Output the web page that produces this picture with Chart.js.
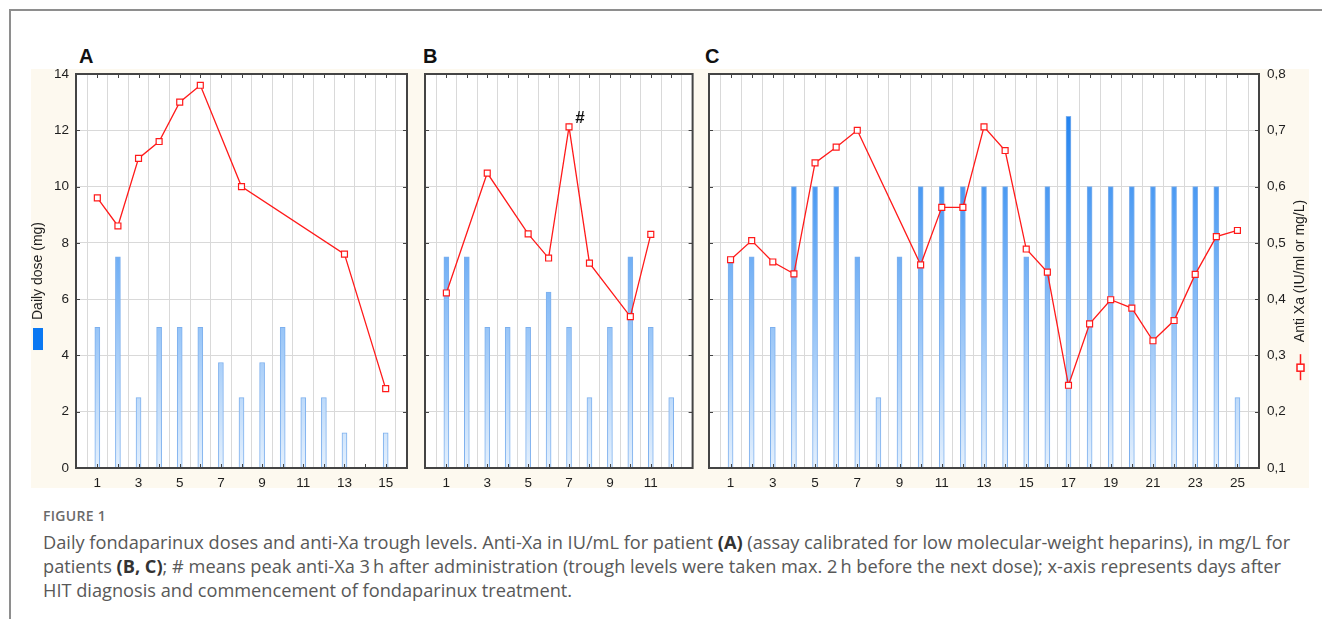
<!DOCTYPE html>
<html>
<head>
<meta charset="utf-8">
<script src="https://cdn.jsdelivr.net/npm/chart.js@4.4.1/dist/chart.umd.min.js"></script>
<style>
  body { margin: 0; width: 1322px; height: 619px; background: #fff; position: relative; overflow: hidden; font-family: "Liberation Sans", Arial, sans-serif; }
  .frame { position: absolute; left: 9px; top: 9px; width: 1330px; height: 640px; border-left: 2px solid #8e8e8e; border-top: 2px solid #8e8e8e; }
  .cream { position: absolute; left: 31px; top: 69px; width: 1278px; height: 419px; background: #fdf9ef; }
  canvas { position: absolute; }
  .letter { position: absolute; top: 45px; font: bold 20px "Liberation Sans", Arial, sans-serif; color: #111; }
  .caption { position: absolute; left: 43px; top: 506px; font-family: "Open Sans", sans-serif; color: #585858; white-space: nowrap; }
  .caption .fig { font-size: 14px; font-weight: 600; color: #6a6a6a; letter-spacing: 0.3px; height: 20px; line-height: 20px; margin-bottom: 4px; }
  .caption .line { font-size: 18.2px; line-height: 24px; }
  .caption b { color: #333; font-weight: 700; }
</style>
</head>
<body>
<div class="frame"></div>
<div class="cream"></div>
<div class="letter" style="left:79px">A</div>
<div class="letter" style="left:423px">B</div>
<div class="letter" style="left:705px">C</div>
<canvas id="chartA" width="415" height="460" style="left:0px;top:40px"></canvas>
<canvas id="chartB" width="286" height="460" style="left:412px;top:40px"></canvas>
<canvas id="chartC" width="624" height="460" style="left:698px;top:40px"></canvas>
<div class="caption">
  <div class="fig">FIGURE 1</div>
  <div class="line">Daily fondaparinux doses and anti-Xa trough levels. Anti-Xa in IU/mL for patient <b>(A)</b> (assay calibrated for low molecular-weight heparins), in mg/L for</div>
  <div class="line">patients <b>(B, C)</b>; # means peak anti-Xa 3&thinsp;h after administration (trough levels were taken max. 2&thinsp;h before the next dose); x-axis represents days after</div>
  <div class="line">HIT diagnosis and commencement of fondaparinux treatment.</div>
</div>
<script>
// dose axis (left) and anti-Xa axis (right) ticks
const doseTicks = [0, 2, 4, 6, 8, 10, 12, 14];
const xaTicks = [0.1, 0.2, 0.3, 0.4, 0.5, 0.6, 0.7, 0.8];

// patient A
const daysA = [1, 2, 3, 4, 5, 6, 7, 8, 9, 10, 11, 12, 13, 14, 15];
const doseA = [5, 7.5, 2.5, 5, 5, 5, 3.75, 2.5, 3.75, 5, 2.5, 2.5, 1.25, null, 1.25];
const xaDaysA = [1, 2, 3, 4, 5, 6, 8, 13, 15];
const xaA = [0.58, 0.53, 0.65, 0.68, 0.75, 0.78, 0.60, 0.48, 0.241];

// patient B
const daysB = [1, 2, 3, 4, 5, 6, 7, 8, 9, 10, 11, 12];
const doseB = [7.5, 7.5, 5, 5, 5, 6.25, 5, 2.5, 5, 7.5, 5, 2.5];
const xaDaysB = [1, 3, 5, 6, 7, 8, 10, 11];
const xaB = [0.411, 0.624, 0.516, 0.473, 0.706, 0.464, 0.369, 0.515];
const peakB = { day: 7, value: 0.706, text: '#' };

// patient C
const daysC = [1, 2, 3, 4, 5, 6, 7, 8, 9, 10, 11, 12, 13, 14, 15, 16, 17, 18, 19, 20, 21, 22, 23, 24, 25];
const doseC = [7.5, 7.5, 5, 10, 10, 10, 7.5, 2.5, 7.5, 10, 10, 10, 10, 10, 7.5, 10, 12.5, 10, 10, 10, 10, 10, 10, 10, 2.5];
const xaDaysC = [1, 2, 3, 4, 5, 6, 7, 10, 11, 12, 13, 14, 15, 16, 17, 18, 19, 20, 21, 22, 23, 24, 25];
const xaC = [0.47, 0.504, 0.466, 0.445, 0.642, 0.67, 0.70, 0.461, 0.563, 0.563, 0.706, 0.664, 0.489, 0.448, 0.247, 0.356, 0.399, 0.384, 0.326, 0.362, 0.444, 0.511, 0.522];

const doseLabel = 'Daily dose (mg)';
const xaLabel = 'Anti Xa (IU/ml or mg/L)';

const INK = '#1e1e1e';
const GRID = '#d9d9d9';
const FRAME = '#444';
const RED = '#ff1a1a';
const TICK_FONT = { family: '"Liberation Sans", Arial, sans-serif', size: 13.5 };

function barFill(ctx) {
  const area = ctx.chart.chartArea;
  if (!area) return '#9cc8f6';
  const g = ctx.chart.ctx.createLinearGradient(0, area.top, 0, area.bottom);
  g.addColorStop(0, '#0b76ee');
  g.addColorStop(1, '#e4f0fd');
  return g;
}

// white plot area, dark frame and inward tick marks
const plotFrame = {
  id: 'plotFrame',
  beforeDraw(chart) {
    const { ctx, chartArea: a } = chart;
    ctx.save();
    ctx.fillStyle = '#fff';
    ctx.fillRect(a.left, a.top, a.right - a.left, a.bottom - a.top);
    ctx.restore();
  },
  afterDatasetsDraw(chart) {
    const { ctx, chartArea: a, scales } = chart;
    ctx.save();
    ctx.strokeStyle = FRAME;
    ctx.lineWidth = 1;
    ctx.beginPath();
    scales.x.ticks.forEach((t) => {
      const px = Math.round(scales.x.getPixelForValue(t.value)) + 0.5;
      ctx.moveTo(px, a.top); ctx.lineTo(px, a.top + 4);
      ctx.moveTo(px, a.bottom); ctx.lineTo(px, a.bottom - 4);
    });
    scales.y.ticks.forEach((t) => {
      const py = Math.round(scales.y.getPixelForValue(t.value)) + 0.5;
      ctx.moveTo(a.left, py); ctx.lineTo(a.left + 4, py);
      ctx.moveTo(a.right, py); ctx.lineTo(a.right - 4, py);
    });
    ctx.stroke();
    ctx.lineWidth = 2;
    ctx.strokeRect(a.left, a.top, a.right - a.left, a.bottom - a.top);
    ctx.restore();
  },
};

// '#' note, dose swatch and the rotated anti-Xa key
const extras = {
  id: 'extras',
  afterDraw(chart, args, opts) {
    const { ctx, chartArea: a, scales } = chart;
    const cy = (a.top + a.bottom) / 2;
    ctx.save();
    if (opts.peak) {
      const px = scales.x.getPixelForValue(opts.peak.day);
      const py = scales.y2.getPixelForValue(opts.peak.value);
      ctx.font = 'bold 17px "Liberation Sans", Arial, sans-serif';
      ctx.fillStyle = '#111';
      ctx.textAlign = 'center';
      ctx.textBaseline = 'middle';
      ctx.fillText(opts.peak.text, px + 11, py - 9);
    }
    if (opts.doseKey) {
      ctx.font = '14px "Liberation Sans", Arial, sans-serif';
      const w = ctx.measureText(doseLabel).width;
      ctx.fillStyle = '#0a78f2';
      ctx.fillRect(33, cy + w / 2 + 8, 10, 22);
    }
    if (opts.xaKey) {
      const x = a.right + 41;
      ctx.font = '14px "Liberation Sans", Arial, sans-serif';
      const w = ctx.measureText(xaLabel).width;
      ctx.translate(x, cy);
      ctx.rotate(-Math.PI / 2);
      ctx.fillStyle = INK;
      ctx.textAlign = 'center';
      ctx.textBaseline = 'middle';
      ctx.fillText(xaLabel, 0, 0);
      ctx.setTransform(1, 0, 0, 1, 0, 0);
      const my = cy + w / 2 + 25;
      ctx.strokeStyle = RED;
      ctx.lineWidth = 1.5;
      ctx.beginPath();
      ctx.moveTo(x + 0.5, my - 13); ctx.lineTo(x + 0.5, my + 13);
      ctx.stroke();
      ctx.fillStyle = '#fff';
      ctx.fillRect(x - 3, my - 3, 7, 7);
      ctx.strokeRect(x - 3, my - 3, 7, 7);
    }
    ctx.restore();
  },
};

function makePanel(id, p) {
  const scales = {
    x: {
      type: 'linear',
      min: 0.5,
      max: p.days.length + 0.5,
      afterBuildTicks: (s) => { s.ticks = p.days.map((v) => ({ value: v })); },
      afterFit: (s) => { s.height = 32; },
      grid: { color: GRID, drawTicks: false },
      border: { display: false },
      ticks: {
        autoSkip: false, maxRotation: 0, padding: 7, color: INK, font: TICK_FONT,
        callback: (v) => (v % 2 === 1 ? String(v) : ''),
      },
    },
    y: {
      position: 'left',
      min: 0,
      max: 14,
      afterBuildTicks: (s) => { s.ticks = doseTicks.map((v) => ({ value: v })); },
      afterFit: (s) => { s.width = p.yWidth; },
      grid: { color: GRID, drawTicks: false },
      border: { display: false },
      ticks: { display: p.showDose, padding: 7, color: INK, font: TICK_FONT },
      title: {
        display: p.showDose, text: doseLabel, color: INK,
        font: { family: '"Liberation Sans", Arial, sans-serif', size: 14 },
        padding: { top: 30, bottom: 0 },
      },
    },
    y2: {
      display: p.showXa,
      position: 'right',
      min: 0.1,
      max: 0.8,
      afterBuildTicks: (s) => { s.ticks = xaTicks.map((v) => ({ value: v })); },
      afterFit: (s) => { s.width = p.showXa ? 63 : 0; },
      grid: { display: false, drawTicks: false },
      border: { display: false },
      ticks: {
        padding: 8, color: INK, font: TICK_FONT,
        callback: (v) => v.toFixed(1).replace('.', ','),
      },
    },
  };

  return new Chart(document.getElementById(id), {
    type: 'bar',
    data: {
      datasets: [
        {
          type: 'line',
          label: xaLabel,
          yAxisID: 'y2',
          order: 0,
          data: p.xaDays.map((d, i) => ({ x: d, y: p.xa[i] })),
          borderColor: RED,
          borderWidth: 1.3,
          pointStyle: 'rect',
          pointRadius: 4.2,
          pointBorderWidth: 1.2,
          pointBackgroundColor: '#fff',
          pointBorderColor: RED,
          tension: 0,
        },
        {
          type: 'bar',
          label: doseLabel,
          yAxisID: 'y',
          order: 1,
          data: p.days.map((d, i) => ({ x: d, y: p.dose[i] })),
          backgroundColor: barFill,
          borderColor: '#7db0ee',
          borderWidth: 1,
          barThickness: 5,
        },
      ],
    },
    options: {
      responsive: false,
      animation: false,
      events: [],
      layout: { padding: p.padding },
      scales,
      plugins: {
        legend: { display: false },
        tooltip: { enabled: false },
        extras: p.extras || {},
      },
    },
    plugins: [plotFrame, extras],
  });
}

makePanel('chartA', {
  days: daysA, dose: doseA, xaDays: xaDaysA, xa: xaA,
  showDose: true, showXa: false, yWidth: 76,
  padding: { top: 34, right: 8, left: 0, bottom: 0 },
  extras: { doseKey: true },
});

makePanel('chartB', {
  days: daysB, dose: doseB, xaDays: xaDaysB, xa: xaB,
  showDose: false, showXa: false, yWidth: 0,
  padding: { top: 34, right: 5, left: 13, bottom: 0 },
  extras: { peak: peakB },
});

makePanel('chartC', {
  days: daysC, dose: doseC, xaDays: xaDaysC, xa: xaC,
  showDose: false, showXa: true, yWidth: 0,
  padding: { top: 34, right: 0, left: 11, bottom: 0 },
  extras: { xaKey: true },
});
</script>
</body>
</html>
